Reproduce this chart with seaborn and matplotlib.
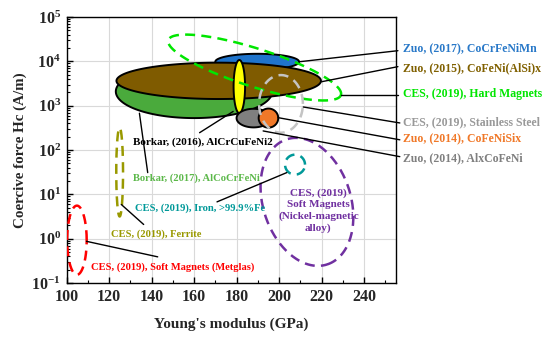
import numpy as np
import matplotlib
matplotlib.use("Agg")
import matplotlib.pyplot as plt
import seaborn as sns
from matplotlib.ticker import LogLocator, MultipleLocator

# ellipse data: centre (GPa, log10 Hc), half axis vectors u and v in (GPa, decades)
filled_names = ["Zuo2017", "Borkar2017", "Zuo2015", "Borkar2016", "Zuo2014Al", "Zuo2014Si"]
filled_cx = [189.7, 160.0, 171.6, 181.3, 188.0, 195.0]
filled_cy = [3.99, 3.32, 3.56, 3.43, 2.72, 2.72]
filled_ux = [19.7, 36.8, 48.1, 2.7, 8.0, 4.6]
filled_uy = [0.0, 0.0, 0.0, 0.0, 0.0, 0.0]
filled_vx = [0.0, 0.0, 0.0, 0.0, 0.0, 0.0]
filled_vy = [0.18, 0.60, 0.41, 0.60, 0.21, 0.215]
filled_colors = ["#1F74CC", "#4AAA3C", "#7F5B00", "#FFFF00", "#7F7F7F", "#F07828"]

dashed_names = ["HardMagnets", "Stainless", "Iron", "NiAlloy", "Ferrite", "Metglas"]
dashed_cx = [188.5, 200.9, 207.5, 213.1, 125.0, 104.9]
dashed_cy = [3.86, 3.04, 1.67, 0.83, 1.50, -0.035]
dashed_ux = [40.6, 10.3, 4.7, 9.6, 1.6, 4.6]
dashed_uy = [-0.62, 0.0, 0.0, -1.41, 0.0, 0.0]
dashed_vx = [2.7, 0.0, 0.0, 19.6, 0.0, 0.0]
dashed_vy = [0.41, 0.65, 0.225, 0.31, 1.00, 0.78]
dashed_colors = ["#00E600", "#C4C4C4", "#009999", "#7030A0", "#999900", "#FF0000"]

labels = ["Zuo, (2017), CoCrFeNiMn", "Zuo, (2015), CoFeNi(AlSi)x",
          "CES, (2019), Hard Magnets", "CES, (2019), Stainless Steel",
          "Zuo, (2014), CoFeNiSix", "Zuo, (2014), AlxCoFeNi",
          "Borkar, (2016), AlCrCuFeNi2", "Borkar, (2017), AlCoCrFeNi",
          "CES, (2019), Iron, >99.9%Fe", "CES, (2019), Ferrite",
          "CES, (2019), Soft Magnets (Metglas)"]
label_colors = ["#2878C8", "#806000", "#00E600", "#999999", "#F07828", "#7F7F7F",
                "#000000", "#5CB84A", "#009999", "#999900", "#FF0000"]
# label anchor (GPa, log10 Hc) and leader line start/end
label_x = [258.2, 258.2, 258.2, 258.2, 258.2, 258.2, 131.3, 131.3, 132.4, 120.7, 111.3]
label_y = [4.30, 3.84, 3.26, 2.63, 2.27, 1.82, 2.17, 1.37, 0.68, 0.11, -0.65]
label_size = [8.5, 8.5, 8.5, 8.5, 8.5, 8.5, 8.0, 7.6, 7.6, 7.6, 7.6]
line_x0 = [209.4, 220.0, 229.0, 211.4, 199.5, 192.5, 178.4, 134.3, 203.6, 125.8, 109.4]
line_y0 = [3.99, 3.54, 3.24, 2.97, 2.73, 2.43, 2.87, 2.83, 1.49, 0.77, -0.06]
line_x1 = [255.9, 255.9, 255.9, 256.8, 256.8, 256.8, 162.6, 138.2, 170.8, 136.3, 142.9]
line_y1 = [4.24, 3.88, 3.24, 2.61, 2.23, 1.85, 2.39, 1.49, 0.83, 0.32, -0.41]

ni_text = "CES, (2019)\nSoft Magnets\n(Nickel-magnetic\nalloy)"


def ellipse(cx, cy, ux, uy, vx, vy):
    t = np.linspace(0, 2 * np.pi, 240)
    x = cx + ux * np.cos(t) + vx * np.sin(t)
    ly = cy + uy * np.cos(t) + vy * np.sin(t)
    return x, 10 ** ly


sns.set_theme(style="whitegrid")
plt.rcParams["font.family"] = ["Liberation Serif", "DejaVu Serif"]
plt.rcParams["font.weight"] = "bold"
plt.rcParams["mathtext.fontset"] = "custom"
plt.rcParams["mathtext.rm"] = "Liberation Serif:bold"
plt.rcParams["mathtext.bf"] = "Liberation Serif:bold"
plt.rcParams["mathtext.it"] = "Liberation Serif:bold:italic"
plt.rcParams["mathtext.default"] = "rm"

fig = plt.figure(figsize=(5.5, 3.37), dpi=100)
ax = fig.add_axes([66.5 / 550, 54 / 337, 329.5 / 550, 266 / 337])
ax.set_yscale("log")
ax.set_xlim(100, 255)
ax.set_ylim(0.1, 1e5)
ax.set_facecolor("white")

for i in range(len(filled_names)):
    x, y = ellipse(filled_cx[i], filled_cy[i], filled_ux[i], filled_uy[i],
                   filled_vx[i], filled_vy[i])
    ax.fill(x, y, facecolor=filled_colors[i], edgecolor="black", lw=1.4, zorder=3 + i)

for i in range(len(dashed_names)):
    x, y = ellipse(dashed_cx[i], dashed_cy[i], dashed_ux[i], dashed_uy[i],
                   dashed_vx[i], dashed_vy[i])
    ax.plot(x, y, color=dashed_colors[i], lw=1.8, ls=(0, (4, 2.5)), zorder=12)

for i in range(len(labels)):
    ax.plot([line_x0[i], line_x1[i]], [10 ** line_y0[i], 10 ** line_y1[i]],
            color="black", lw=1.0, zorder=13, clip_on=False)
    ax.text(label_x[i], 10 ** label_y[i], labels[i], color=label_colors[i],
            fontsize=label_size[i], fontweight="bold", ha="left", va="center",
            zorder=14, clip_on=False)

ax.text(218.5, 10 ** 0.63, ni_text, color="#7030A0", fontsize=8.0, fontweight="bold",
        ha="center", va="center", linespacing=1.3, zorder=14)

ax.set_xticks(np.arange(100, 241, 20))
ax.xaxis.set_minor_locator(MultipleLocator(10))
ax.yaxis.set_major_locator(LogLocator(base=10, numticks=10))
ax.yaxis.set_minor_locator(LogLocator(base=10, subs=np.arange(2, 10), numticks=20))
ax.grid(True, which="major", color="#D9D9D9", lw=0.8)
ax.grid(False, which="minor")
ax.tick_params(axis="both", which="both", direction="in", color="black",
               bottom=True, left=True, top=False, right=False)
ax.tick_params(axis="both", which="major", length=4, width=1, labelsize=11.5, pad=4)
ax.tick_params(axis="both", which="minor", length=2, width=0.8)
for sp in ax.spines.values():
    sp.set_color("black")
    sp.set_linewidth(1.0)

ax.set_xlabel("Young's modulus (GPa)", fontsize=11, fontweight="bold")
ax.set_ylabel("Coercive force Hc (A/m)", fontsize=10.8, fontweight="bold")
ax.xaxis.set_label_coords(0.5, -0.128)
ax.yaxis.set_label_coords(-0.12, 0.5)

fig.savefig("out.png", dpi=100, facecolor="white")
